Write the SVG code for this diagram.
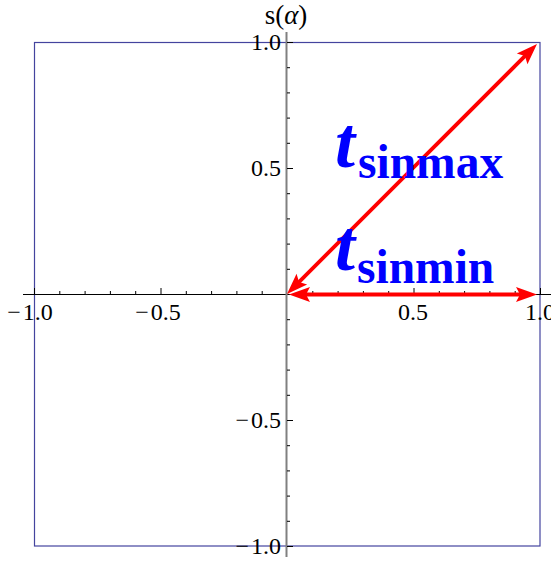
<svg xmlns="http://www.w3.org/2000/svg" width="551" height="563" viewBox="0 0 551 563">
<style>
.tk{font-family:"Liberation Serif","Times New Roman",serif;font-size:24px;fill:#000}
.ax{font-family:"Liberation Serif","Times New Roman",serif;font-size:27px;fill:#000}
.lbl{font-family:"Liberation Serif","Times New Roman",serif;font-weight:bold;fill:#0000ff}
.tick{stroke:#000;stroke-width:1}
.arr{stroke:#ff0000;stroke-width:3.8;fill:none;marker-start:url(#ah);marker-end:url(#ah)}
</style>
<defs>
<marker id="ah" markerUnits="userSpaceOnUse" markerWidth="40" markerHeight="40" viewBox="-20 -20 40 40" refX="0" refY="0" orient="auto-start-reverse" overflow="visible">
<path d="M14,0 L-7,-7.5 L-3,0 L-7,7.5 Z" fill="#ff0000"/>
</marker>
</defs>
<g id="frame">
<rect x="34.5" y="42.5" width="505.5" height="503.5" fill="none" stroke="#44449e" stroke-width="1.2"/>
</g>
<g id="axes">
<line x1="23" y1="294.5" x2="551" y2="294.5" stroke="#000" stroke-width="1"/>
<line x1="286.5" y1="32" x2="286.5" y2="557" stroke="#808080" stroke-width="2"/>
<g id="xticks">
<path class="tick" d="M34.5,294 v-6 M59.8,294 v-3 M85.1,294 v-3 M110.4,294 v-3 M135.7,294 v-3 M161,294 v-6 M186.3,294 v-3 M211.6,294 v-3 M236.9,294 v-3 M262.2,294 v-3 M312.8,294 v-3 M338.1,294 v-3 M363.4,294 v-3 M388.7,294 v-3 M414,294 v-6 M439.3,294 v-3 M464.6,294 v-3 M489.9,294 v-3 M515.2,294 v-3 M540.5,294 v-6"/>
</g>
<g id="yticks">
<path class="tick" d="M287,42.5 h6 M287,67.7 h3 M287,92.9 h3 M287,118.1 h3 M287,143.3 h3 M287,168.5 h6 M287,193.7 h3 M287,218.9 h3 M287,244.1 h3 M287,269.3 h3 M287,319.7 h3 M287,344.9 h3 M287,370.1 h3 M287,395.3 h3 M287,420.5 h6 M287,445.7 h3 M287,470.9 h3 M287,496.1 h3 M287,521.3 h3 M287,546.5 h6"/>
</g>
<g id="ticklabels">
<text class="tk" x="30" y="320" text-anchor="middle">−<tspan dx="2">1.0</tspan></text>
<text class="tk" x="158" y="320" text-anchor="middle">−<tspan dx="2">0.5</tspan></text>
<text class="tk" x="413" y="320" text-anchor="middle">0.5</text>
<text class="tk" x="540" y="320" text-anchor="middle">1.0</text>
<text class="tk" x="281" y="50" text-anchor="end">1.0</text>
<text class="tk" x="281" y="176" text-anchor="end">0.5</text>
<text class="tk" x="281" y="428" text-anchor="end">−<tspan dx="2">0.5</tspan></text>
<text class="tk" x="281" y="554" text-anchor="end">−<tspan dx="2">1.0</tspan></text>
<text class="ax" x="286" y="24" text-anchor="middle">s(<tspan font-style="italic">α</tspan>)</text>
</g>
</g>
<g id="connectors">
<line class="arr" x1="296.9" y1="284.1" x2="527.1" y2="53.9"/>
<line class="arr" x1="303" y1="294.5" x2="523" y2="294.5"/>
</g>
<g id="label-tsinmax">
<text class="lbl" x="335" y="167" font-size="72" font-style="italic">t</text>
<text class="lbl" x="358" y="178" font-size="47.5">sinmax</text>
</g>
<g id="label-tsinmin">
<text class="lbl" x="335" y="270" font-size="72" font-style="italic">t</text>
<text class="lbl" x="357" y="283" font-size="47.5">sinmin</text>
</g>
</svg>
